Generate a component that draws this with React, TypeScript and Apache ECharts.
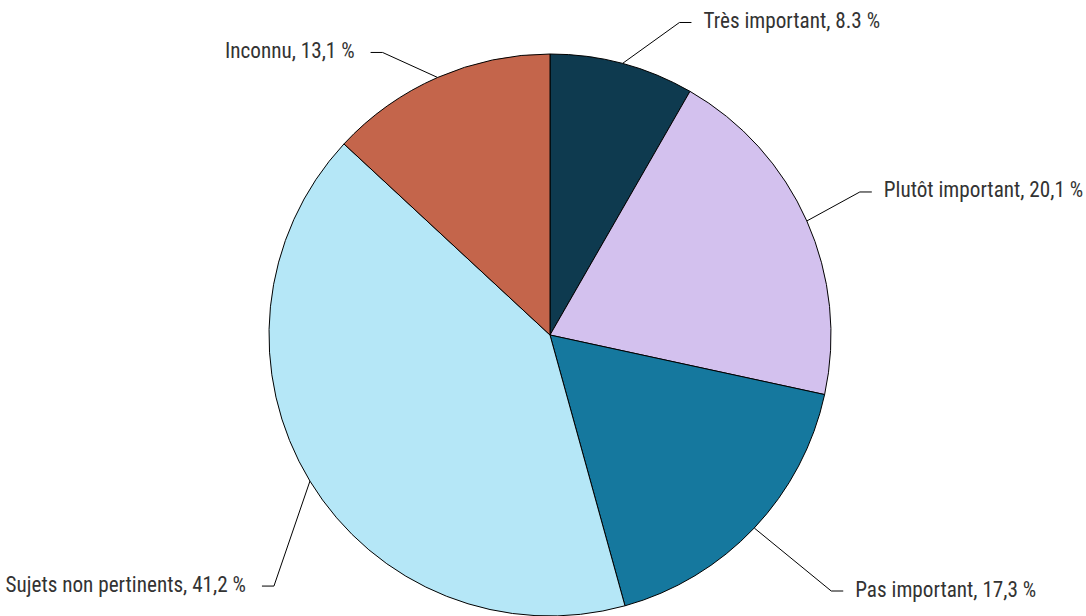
import React, { useEffect, useRef } from "react";
import * as echarts from "echarts";

const categories = [
  "Très important",
  "Plutôt important",
  "Pas important",
  "Sujets non pertinents",
  "Inconnu",
];
const values = [8.3, 20.1, 17.3, 41.2, 13.1];
const valueLabels = ["8.3", "20,1", "17,3", "41,2", "13,1"];
const colors = ["#0e3a4f", "#d3c1ee", "#15789e", "#b5e7f7", "#c4654b"];

// label connector bend offsets from the slice edge (styling)
const bendOffsets: [number, number][] = [
  [57, -41],
  [53, -29],
  [77, 63],
  [-36, 105],
  [-55, -25],
];

export default function App() {
  const ref = useRef<HTMLDivElement>(null);
  useEffect(() => {
    if (!ref.current) return;
    const chart = echarts.init(ref.current, undefined, { renderer: "svg" });
    chart.setOption({
      animation: false,
      backgroundColor: "#ffffff",
      series: [
        {
          type: "pie",
          center: [550, 335],
          radius: 281,
          startAngle: 90,
          clockwise: true,
          data: categories.map((name, i) => ({
            name,
            value: values[i],
            itemStyle: { color: colors[i] },
          })),
          itemStyle: { borderColor: "#000000", borderWidth: 1 },
          label: {
            show: true,
            formatter: (p: any) => `${p.name}, ${valueLabels[p.dataIndex]} %`,
            fontFamily:
              "'Roboto Condensed', 'Liberation Sans Narrow', 'DejaVu Sans Condensed', Roboto, sans-serif",
            fontSize: 21.2,
            color: "#333333",
          },
          labelLine: {
            show: true,
            length: 30,
            length2: 12,
            lineStyle: { color: "#000000", width: 1 },
          },
          labelLayout: (params: any) => {
            const i = params.dataIndex;
            const pts = params.labelLinePoints;
            if (!pts) return {};
            const start = pts[0];
            const off = bendOffsets[i];
            const bend = [start[0] + off[0], start[1] + off[1]];
            const dir = off[0] >= 0 ? 1 : -1;
            const end = [bend[0] + dir * 12, bend[1]];
            const gap = dir > 0 ? 12 : 16;
            return {
              x: end[0] + dir * gap,
              y: end[1] - 2,
              align: dir > 0 ? "left" : "right",
              verticalAlign: "middle",
              labelLinePoints: [start, bend, end],
            };
          },
        },
      ],
    });
    return () => chart.dispose();
  }, []);
  return (
    <div
      ref={ref}
      style={{ position: "fixed", left: 0, top: 0, width: 1086, height: 616 }}
    />
  );
}
